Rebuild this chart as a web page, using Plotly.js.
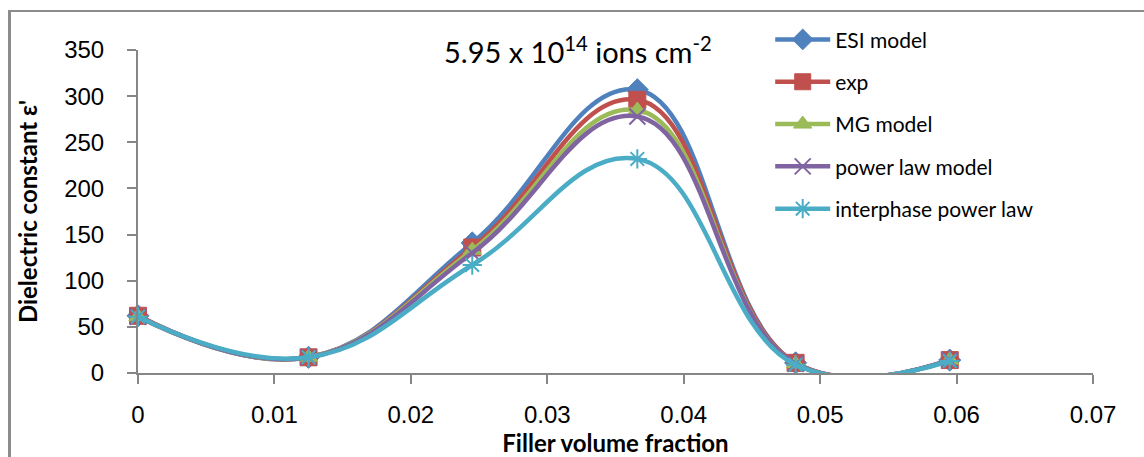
<!DOCTYPE html>
<html>
<head>
<meta charset="utf-8">
<script src="https://cdn.plot.ly/plotly-3.0.1.min.js"></script>
<style>
  html, body { margin: 0; padding: 0; background: #ffffff; overflow: hidden; }
  #chart { position: absolute; left: 0; top: 0; width: 1144px; height: 457px; }
  #frame { position: absolute; left: 8px; top: 10px; width: 1200px; height: 500px;
           border-top: 2px solid #8c8c8c; border-left: 3px solid #8c8c8c; pointer-events: none; }
</style>
</head>
<body>
<div id="chart"></div>
<div id="frame"></div>
<script>
// Filler volume fraction (x)
const fillerFraction = [0, 0.0125, 0.0245, 0.0366, 0.0482, 0.0595];
// Dielectric constant series
const esiModel      = [62, 17, 141, 307, 11, 14];
const expData       = [62, 17, 136, 296, 11, 14];
const mgModel       = [61, 17, 133, 285, 10, 14];
const powerLawModel = [61, 17, 130, 278, 10, 14];
const interphasePL  = [61, 17, 117, 232, 9, 13];

const seriesNames = ["ESI model", "exp", "MG model", "power law model", "interphase power law"];
const xTickVals = [0, 0.01, 0.02, 0.03, 0.04, 0.05, 0.06, 0.07];
const yTickVals = [0, 50, 100, 150, 200, 250, 300, 350];

function makeTrace(name, y, color, symbol, size, lineW) {
  return {
    type: "scatter", mode: "lines+markers", name: name, legendgroup: name,
    x: fillerFraction, y: y, cliponaxis: false,
    line: { color: color, width: 4.5, shape: "spline", smoothing: 1.2 },
    marker: { color: color, symbol: symbol, size: size,
              line: { color: color, width: lineW } }
  };
}

const data = [
  makeTrace(seriesNames[0], esiModel, "#4F81BD", "diamond", 17, 1),
  makeTrace(seriesNames[1], expData, "#C0504D", "square", 17, 1),
  makeTrace(seriesNames[2], mgModel, "#9BBB59", "triangle-up", 16, 1),
  makeTrace(seriesNames[3], powerLawModel, "#8064A2", "x-thin-open", 16, 2),
  makeTrace(seriesNames[4], interphasePL, "#4BACC6", "asterisk-open", 16, 2)
];

const axisColor = "#868686";
const titleFont = "Lato, 'Open Sans', sans-serif";
const tickFont = "'Liberation Sans', Arial, sans-serif";
const layout = {
  width: 1144, height: 457,
  paper_bgcolor: "#ffffff", plot_bgcolor: "#ffffff",
  margin: { l: 137.5, r: 50.5, t: 50, b: 84 },
  showlegend: true,
  legend: {
    x: 0.662, xanchor: "left", y: 1.095, yanchor: "top",
    bgcolor: "rgba(0,0,0,0)", tracegroupgap: 12, itemwidth: 55,
    font: { family: titleFont, size: 21, color: "#000000" }
  },
  xaxis: {
    range: [0, 0.07], tickvals: xTickVals, ticktext: xTickVals.map(String),
    showgrid: false, zeroline: false, showline: true, linecolor: axisColor, linewidth: 2,
    ticks: "outside", ticklen: 9, tickwidth: 2, tickcolor: axisColor,
    ticklabelstandoff: 10,
    tickfont: { family: tickFont, size: 24, color: "#000000" },
    title: { text: "Filler volume fraction", standoff: 0,
             font: { family: titleFont, size: 24, color: "#000000", weight: "bold" } }
  },
  yaxis: {
    range: [0, 350], tickvals: yTickVals, ticktext: yTickVals.map(String),
    showgrid: false, zeroline: false, showline: true, linecolor: axisColor, linewidth: 2,
    ticks: "outside", ticklen: 9, tickwidth: 2, tickcolor: axisColor,
    ticklabelstandoff: 18,
    tickfont: { family: tickFont, size: 24, color: "#000000" },
    title: { text: "Dielectric constant ε'", standoff: 20,
             font: { family: titleFont, size: 24, color: "#000000", weight: "bold" } }
  },
  annotations: [{
    xref: "paper", yref: "paper", x: 0.4608, y: 1.0, xanchor: "center", yanchor: "middle",
    showarrow: false,
    text: "5.95 x 10<sup>14</sup> ions cm<sup>-2</sup>",
    font: { family: titleFont, size: 29, color: "#000000" }
  }]
};

Plotly.newPlot("chart", data, layout, { displayModeBar: false, staticPlot: true });
</script>
</body>
</html>
